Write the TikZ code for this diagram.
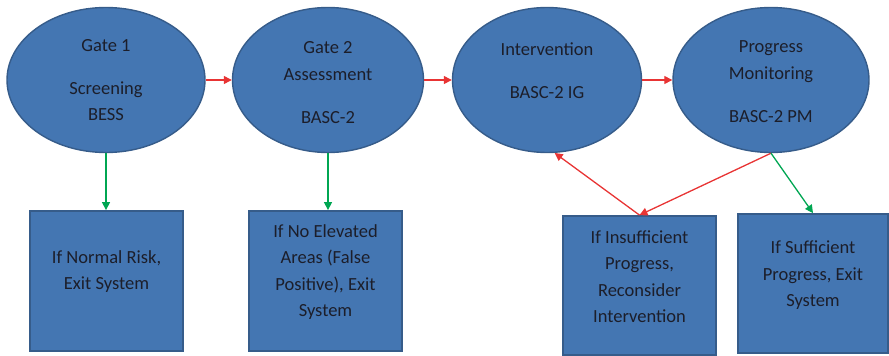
\documentclass[tikz,border=0pt]{standalone}
\usepackage{fontspec}
\setmainfont{Carlito}
\usetikzlibrary{arrows.meta,shapes.geometric}
\definecolor{boxfill}{RGB}{68,118,178}
\definecolor{boxline}{RGB}{54,92,138}
\definecolor{txt}{RGB}{28,30,42}
\definecolor{redarr}{RGB}{232,52,52}
\definecolor{greenarr}{RGB}{0,166,82}
\tikzset{
  gate/.style={ellipse,draw=boxline,fill=boxfill,line width=1.4pt,inner sep=0pt},
  exitbox/.style={rectangle,draw=boxline,fill=boxfill,line width=1.8pt,inner sep=0pt},
  label text/.style={align=center,text=txt,font=\fontsize{18.5}{26.5}\selectfont,inner sep=0pt},
  redflow/.style={draw=redarr,line width=1.3pt,-{Triangle[length=8pt,width=8pt]}},
  greenflow/.style={draw=greenarr,line width=1.3pt,-{Triangle[length=8pt,width=8pt]}}
}
\begin{document}
\begin{tikzpicture}[x=1pt,y=-1pt]
\useasboundingbox (0,0) rectangle (889,356);
% ellipses
\node[gate,minimum width=198pt,minimum height=145pt] (e1) at (106,80) {};
\node[gate,minimum width=191pt,minimum height=145pt] (e2) at (328,80) {};
\node[gate,minimum width=189pt,minimum height=145pt] (e3) at (547,80) {};
\node[gate,minimum width=196pt,minimum height=145pt] (e4) at (771,80) {};
% boxes
\node[exitbox,minimum width=153pt,minimum height=140pt] (b1) at (106.5,281) {};
\node[exitbox,minimum width=153pt,minimum height=140pt] (b2) at (325.5,281) {};
\node[exitbox,minimum width=153pt,minimum height=139pt] (b3) at (639.5,285.5) {};
\node[exitbox,minimum width=150pt,minimum height=139pt] (b4) at (813,283.5) {};
% texts
\node[label text] (t1) at (e1.center) {Gate 1\\[16.5pt]Screening\\BESS};
\node[label text,yshift=-2.5pt] (t2) at (e2.center) {Gate 2\\Assessment\\[16.5pt]BASC-2};
\node[label text,yshift=9.5pt] (t3) at (e3.center) {Intervention\\[16.5pt]BASC-2 IG};
\node[label text,yshift=-1.5pt] (t4) at (e4.center) {Progress\\Monitoring\\[16.5pt]BASC-2 PM};
\node[label text,yshift=9.5pt] (u1) at (b1.center) {If Normal Risk,\\Exit System};
\node[label text,yshift=9pt] (u2) at (b2.center) {If No Elevated\\Areas (False\\Positive), Exit\\System};
\node[label text,yshift=9pt] (u3) at (b3.center) {If Insufficient\\Progress,\\Reconsider\\Intervention};
\node[label text,yshift=8pt] (u4) at (b4.center) {If Sufficient\\Progress, Exit\\System};
% connectors
\draw[redflow] (e1.east) -- (e2.west);
\draw[redflow] (e2.east) -- (e3.west);
\draw[redflow] (e3.east) -- (e4.west);
\draw[greenflow] (e1.south) -- (e1.south |- b1.north);
\draw[greenflow] (e2.south) -- (e2.south |- b2.north);
\draw[redflow] (e4.south) -- (b3.north);
\draw[redflow] (b3.north) -- (e3.-84);
\draw[greenflow] (e4.south) -- (b4.north);
\end{tikzpicture}
\end{document}
